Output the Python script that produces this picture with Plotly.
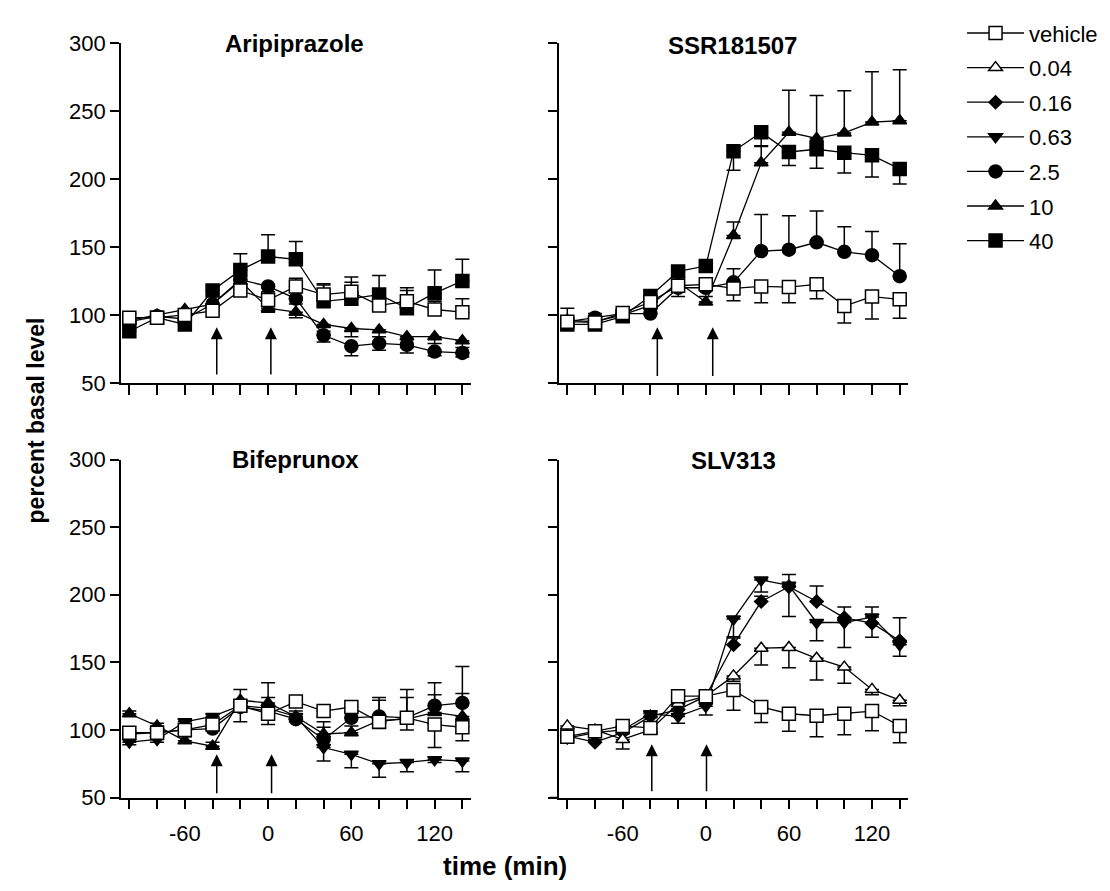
import plotly.graph_objects as go

# ---------------- data ----------------
times = [-100, -80, -60, -40, -20, 0, 20, 40, 60, 80, 100, 120, 140]
x_tick_text = ["", "", "-60", "", "", "0", "", "", "60", "", "", "120", ""]
y_ticks = [50, 100, 150, 200, 250, 300]

panel_titles = ["Aripiprazole", "SSR181507", "Bifeprunox", "SLV313"]
dose_labels = ["vehicle", "0.04", "0.16", "0.63", "2.5", "10", "40"]

# Aripiprazole
ari_vehicle = [98, 98, 100, 103, 118, 111, 121, 115, 117, 107, 110, 104, 102]
ari_vehicle_err = [3, 2, 2, 3, 4, 5, 6, 8, 11, 6, 10, 6, 10]
ari_2_5 = [95, 99, 97, 108, 126, 121, 112, 85, 77, 79, 78, 73, 72]
ari_2_5_err = [2, 2, 3, 3, 4, 4, 4, 5, 7, 5, 6, 3, 3]
ari_10 = [96, 100, 104, 108, 125, 105, 102, 93, 90, 89, 84, 84, 81]
ari_10_err = [2, 2, 3, 3, 4, 3, 4, 5, 6, 5, 8, 5, 5]
ari_40 = [88, 98, 93, 118, 133, 143, 141, 110, 112, 115, 105, 116, 125]
ari_40_err = [2, 2, 3, 3, 12, 16, 13, 12, 12, 14, 13, 17, 16]

# SSR181507
ssr_vehicle = [95, 94.5, 101.5, 109.5, 121.5, 122.5, 119.5, 121, 120.5, 122.5, 106.5, 113.5, 111.5]
ssr_vehicle_err = [3, 3, 2, 3, 8, 4, 9, 12, 11.5, 10.5, 12.5, 16.5, 14]
ssr_2_5 = [95, 98, 101, 101, 120, 120, 124, 147, 148, 153.5, 146.5, 144, 128.5]
ssr_2_5_err = [3, 3, 3, 3, 4, 4, 10, 27, 25, 23, 18.5, 17.5, 24]
ssr_10 = [96, 95, 100, 107, 124, 109.5, 158.5, 212, 234.5, 230, 234, 242, 243]
ssr_10_err = [9, 3, 3, 3, 4, 4, 10, 12, 31, 31.5, 31, 37, 37.5]
ssr_40 = [93, 93, 99, 114, 132, 136, 220.5, 234.5, 220, 222, 219.5, 217.5, 207.5]
ssr_40_err = [2, 2, 2, 3, 4, 4, 14, 10, 10, 14, 15, 16, 11]

# Bifeprunox
bif_vehicle = [98, 98, 100, 104, 118, 112, 121, 114, 117, 106, 109, 104, 102]
bif_vehicle_err = [3, 2, 3, 3, 12, 8, 3, 4, 4, 5, 9, 17, 10]
bif_0_63 = [91, 93, 106, 110, 118, 116, 110, 87, 82, 75, 76, 78, 77]
bif_0_63_err = [2, 2, 3, 3, 4, 4, 4, 10, 10, 10, 7, 2, 8]
bif_2_5 = [97, 98, 100, 101, 117, 114, 108, 93, 109, 110, 109, 118, 120]
bif_2_5_err = [2, 2, 3, 3, 4, 10, 4, 13, 5, 14, 21, 17, 27]
bif_10 = [112, 103, 92, 88, 122, 120, 110, 97, 98, 107, 108, 113, 110]
bif_10_err = [2, 2, 3, 3, 8, 15, 4, 5, 5, 15, 16, 13, 17]

# SLV313
slv_vehicle = [95, 99, 103, 101.5, 125, 125, 129.5, 117, 112, 110.5, 112, 114, 103]
slv_vehicle_err = [3, 2, 3, 3, 3, 3, 15, 11.5, 13, 15.5, 15.5, 14.5, 12.5]
slv_0_04 = [103, 100, 93, 100, 119.5, 125, 140, 160.5, 161, 153, 146.5, 130, 122]
slv_0_04_err = [2, 2, 7, 3, 4, 3, 4, 12.5, 15, 16, 12, 4, 4]
slv_0_16 = [95.5, 91, 98, 110, 115, 125, 163, 195, 206, 195, 183, 179, 166]
slv_0_16_err = [2, 2, 3, 3, 4, 3, 5, 4, 9, 11.5, 8, 12, 17]
slv_0_63 = [94, 98, 100, 112, 110, 117.5, 182, 211, 207, 179.5, 179.5, 183.5, 163]
slv_0_63_err = [2, 2, 3, 3, 5, 6.5, 13, 9, 23, 13.5, 18.5, 15, 8.5]

# drug-administration arrows per panel: x positions, tip y, tail y
arrow_x = [[-37, 2], [-35, 5], [-37, 2.5], [-39, 0.5]]
arrow_tip = [91, 91, 82, 89.5]
arrow_tail = [55, 54, 52, 53.5]

# ---------------- styling ----------------
W, H = 1110, 891
FONT = "Liberation Sans, Arial, sans-serif"

styles = {
    "vehicle": dict(symbol="square", size=13, color="white"),
    "0.04": dict(symbol="triangle-up", size=12, color="white"),
    "0.16": dict(symbol="diamond", size=10, color="black"),
    "0.63": dict(symbol="triangle-down", size=12, color="black"),
    "2.5": dict(symbol="circle", size=13, color="black"),
    "10": dict(symbol="triangle-up", size=12, color="black"),
    "40": dict(symbol="square", size=13, color="black"),
}

# (dose, values, errors, direction) — vehicle drawn last (on top)
panels = [
    [("40", ari_40, ari_40_err, "up"), ("10", ari_10, ari_10_err, "down"),
     ("2.5", ari_2_5, ari_2_5_err, "down"), ("vehicle", ari_vehicle, ari_vehicle_err, "up")],
    [("40", ssr_40, ssr_40_err, "down"), ("10", ssr_10, ssr_10_err, "up"),
     ("2.5", ssr_2_5, ssr_2_5_err, "up"), ("vehicle", ssr_vehicle, ssr_vehicle_err, "down")],
    [("10", bif_10, bif_10_err, "up"), ("0.63", bif_0_63, bif_0_63_err, "down"),
     ("2.5", bif_2_5, bif_2_5_err, "up"), ("vehicle", bif_vehicle, bif_vehicle_err, "down")],
    [("0.63", slv_0_63, slv_0_63_err, "down"), ("0.16", slv_0_16, slv_0_16_err, "up"),
     ("0.04", slv_0_04, slv_0_04_err, "down"), ("vehicle", slv_vehicle, slv_vehicle_err, "down")],
]

axis_ids = [("x", "y"), ("x2", "y2"), ("x3", "y3"), ("x4", "y4")]
x_dom = [(113, 462.7), (551, 900), (113, 462.7), (551, 900)]
y_dom = [(24, 373.3), (24, 373.3), (452.3, 800), (452.3, 800)]

fig = go.Figure()
shown = set()
for p, series in enumerate(panels):
    xa, ya = axis_ids[p]
    for dose, vals, errs, direction in series:
        st = styles[dose]
        zeros = [0] * len(errs)
        err = dict(type="data", symmetric=False,
                   array=errs if direction == "up" else zeros,
                   arrayminus=errs if direction == "down" else zeros,
                   color="black", thickness=1.5, width=7)
        fig.add_trace(go.Scatter(
            x=times, y=vals, xaxis=xa, yaxis=ya, mode="lines+markers",
            name=dose, legendgroup=dose, legendrank=dose_labels.index(dose) + 1,
            showlegend=dose not in shown,
            line=dict(color="black", width=1.3),
            marker=dict(symbol=st["symbol"], size=st["size"], color=st["color"],
                        line=dict(color="black", width=1.5)),
            error_y=err,
        ))
        shown.add(dose)

layout = dict(
    width=W, height=H, margin=dict(l=0, r=0, t=0, b=0),
    paper_bgcolor="white", plot_bgcolor="white",
    font=dict(family=FONT, size=22, color="black"),
    showlegend=True,
    legend=dict(x=0.8595, y=1 + 8 / H, xanchor="left", yanchor="top",
                font=dict(size=22), itemwidth=57, tracegroupgap=3,
                bgcolor="rgba(0,0,0,0)", traceorder="grouped"),
)
for p in range(4):
    xa, ya = axis_ids[p]
    xk = "xaxis" if xa == "x" else "xaxis" + xa[1:]
    yk = "yaxis" if ya == "y" else "yaxis" + ya[1:]
    bottom = p >= 2
    left = p % 2 == 0
    layout[xk] = dict(
        domain=[x_dom[p][0] / W, x_dom[p][1] / W], anchor=ya,
        range=[-106, 146], tickvals=times,
        ticktext=x_tick_text if bottom else [""] * len(times),
        ticks="outside", ticklen=10, tickwidth=1.5, tickcolor="black",
        showline=True, linewidth=1.6, linecolor="black",
        showgrid=False, zeroline=False, tickfont=dict(size=22),
        ticklabelstandoff=5,
    )
    layout[yk] = dict(
        domain=[1 - y_dom[p][1] / H, 1 - y_dom[p][0] / H], anchor=xa,
        range=[50, 300], tickvals=y_ticks, showticklabels=left,
        ticks="outside", ticklen=9, tickwidth=1.5, tickcolor="black",
        showline=True, linewidth=1.6, linecolor="black",
        showgrid=False, zeroline=False, tickfont=dict(size=22),
    )
fig.update_layout(**layout)

annotations = []
title_pos = [(286, 24), (724, 26), (287, 452), (725, 453)]
for p, t in enumerate(panel_titles):
    annotations.append(dict(text="<b>%s</b>" % t, x=title_pos[p][0] / W, y=1 - title_pos[p][1] / H,
                            xref="paper", yref="paper", showarrow=False,
                            xanchor="center", yanchor="middle", font=dict(size=24)))
for p in range(4):
    xa, ya = axis_ids[p]
    for ax_x in arrow_x[p]:
        annotations.append(dict(text="", x=ax_x, y=arrow_tip[p], ax=ax_x, ay=arrow_tail[p],
                                xref=xa, yref=ya, axref=xa, ayref=ya, showarrow=True,
                                arrowhead=2, arrowsize=1.6, arrowwidth=1.5, arrowcolor="black",
                                standoff=0))
annotations.append(dict(text="<b>percent basal level</b>", x=28 / W, y=1 - 412 / H,
                        xref="paper", yref="paper", showarrow=False, textangle=-90,
                        xanchor="center", yanchor="middle", font=dict(size=23)))
annotations.append(dict(text="<b>time (min)</b>", x=497 / W, y=1 - 870 / H,
                        xref="paper", yref="paper", showarrow=False,
                        xanchor="center", yanchor="middle", font=dict(size=26)))
fig.update_layout(annotations=annotations)

# x-axis line of right-hand panels extends slightly left of the y-axis
for ya in ["y2", "y4"]:
    fig.add_shape(type="line", xref="paper", yref=ya, x0=541.7 / W, x1=551 / W, y0=50, y1=50,
                  line=dict(color="black", width=1.6))

fig.write_html("out.html")
